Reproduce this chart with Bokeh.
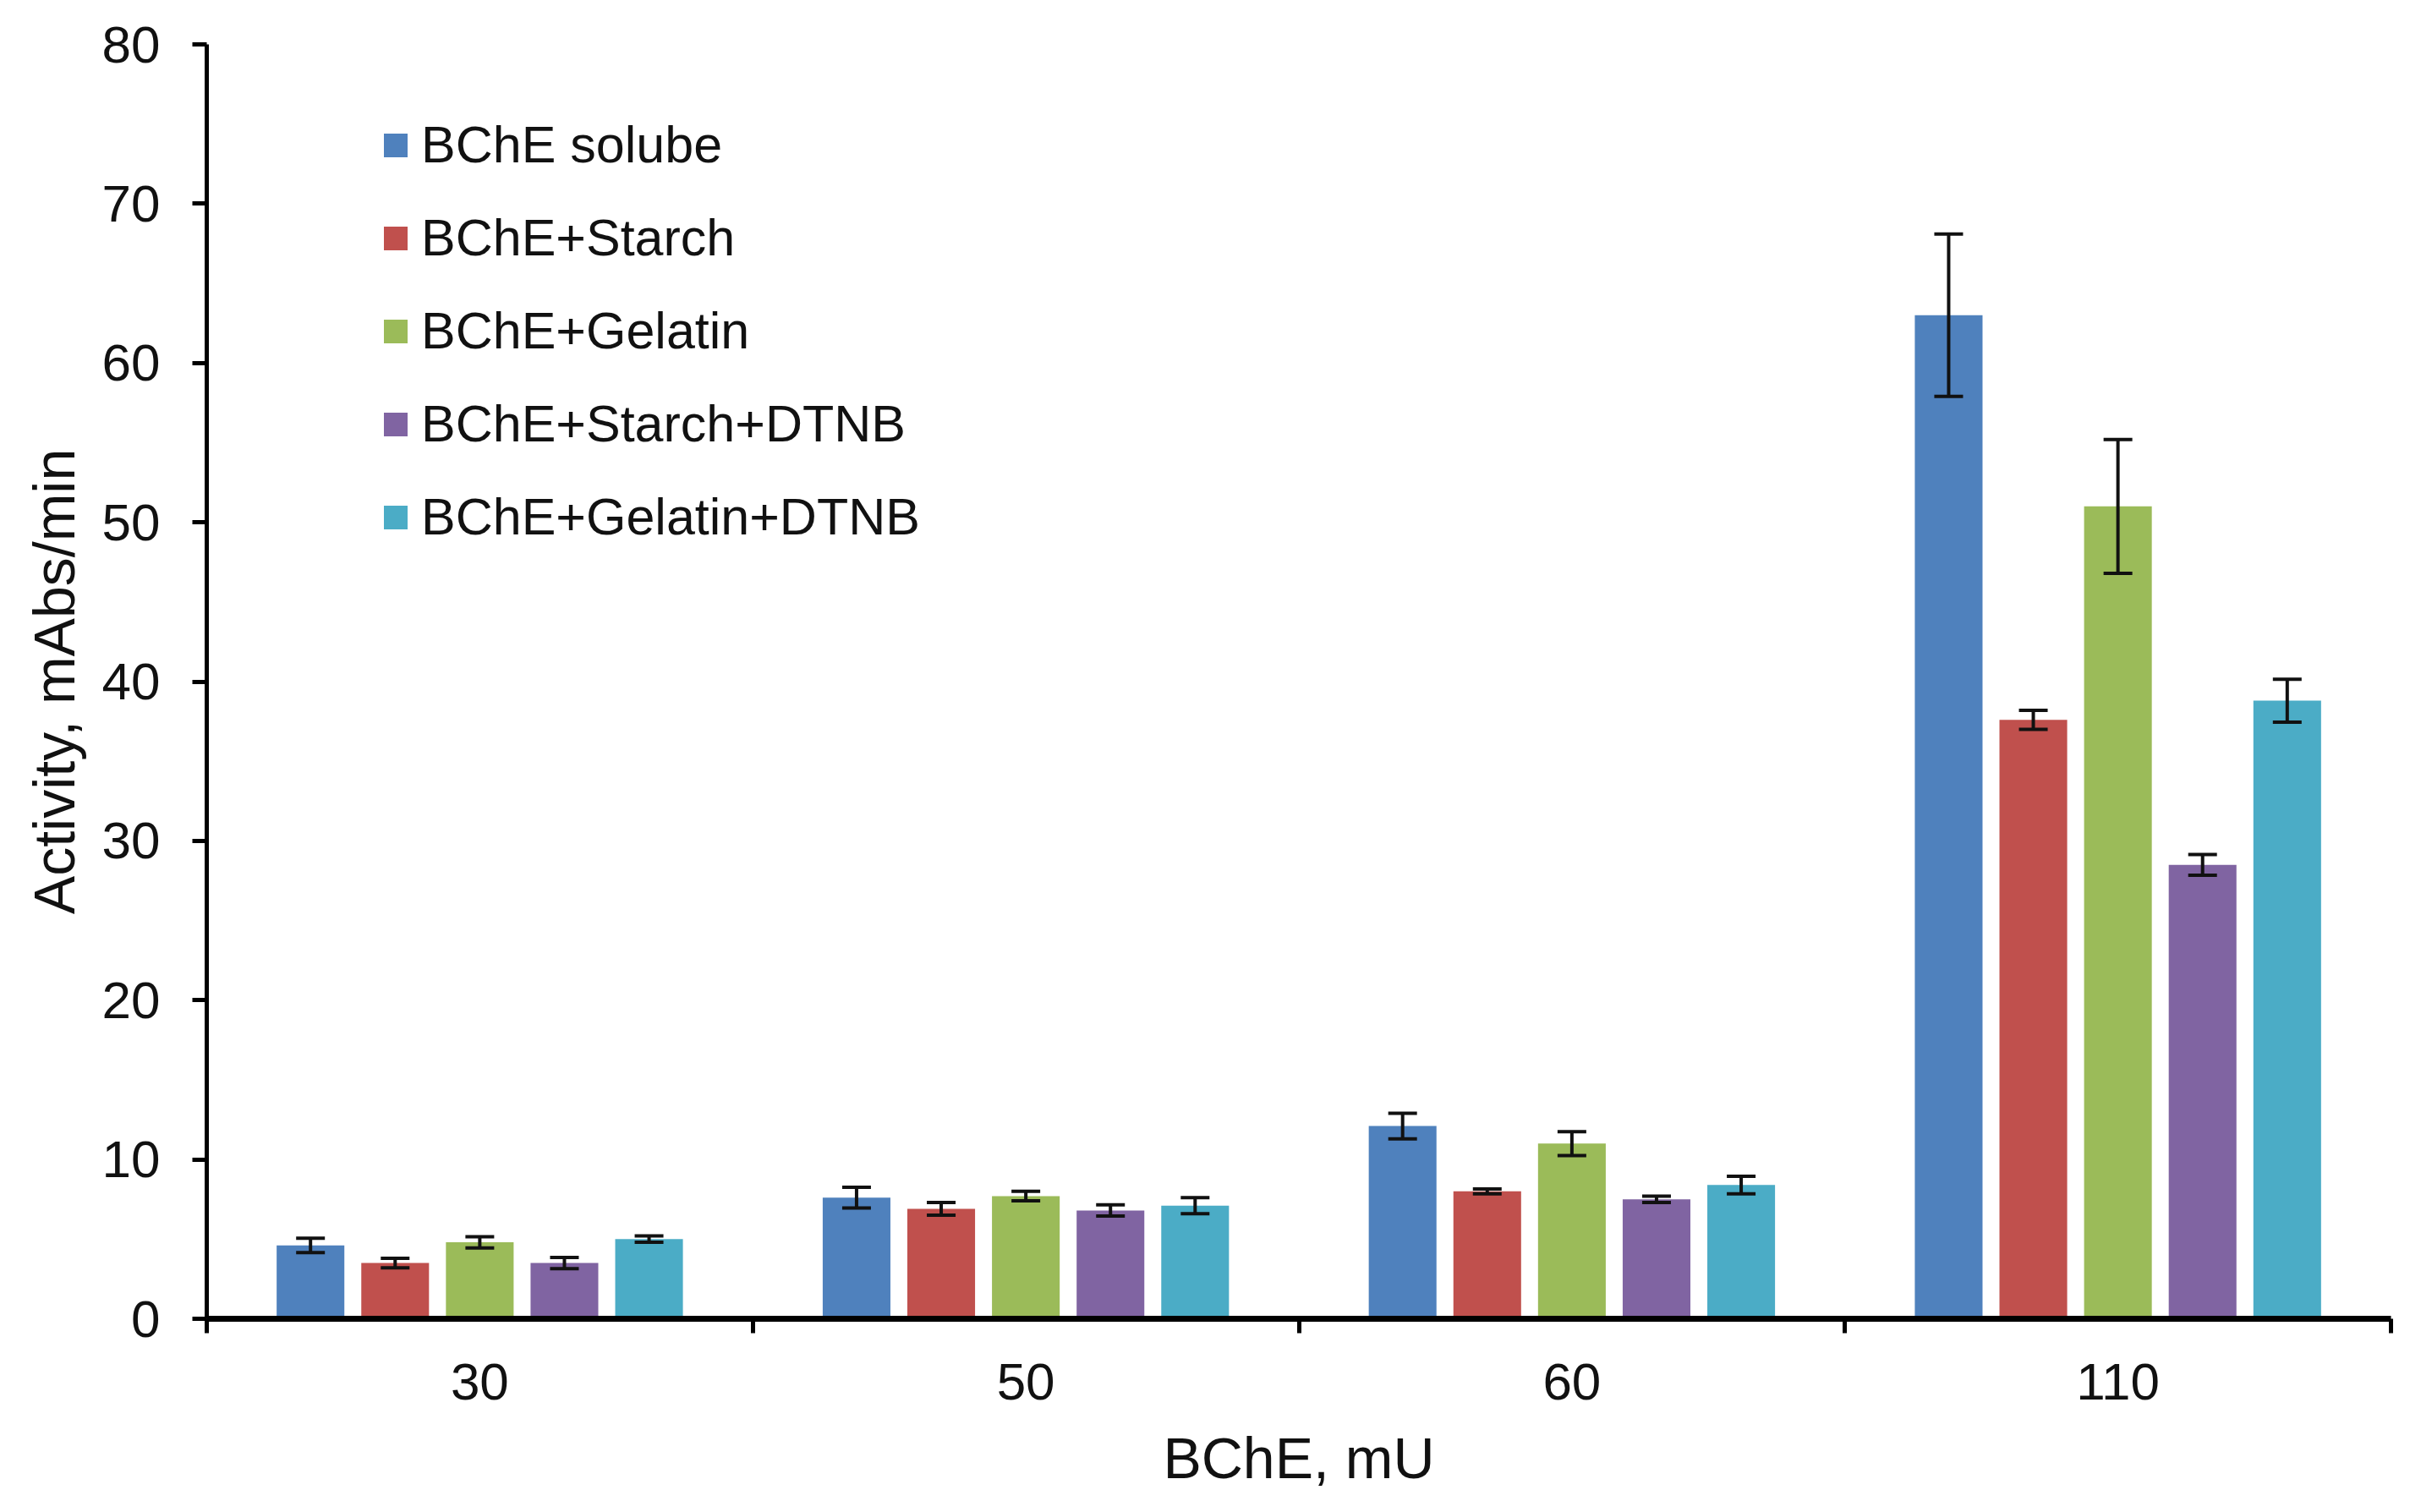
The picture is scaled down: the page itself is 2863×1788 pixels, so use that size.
import numpy as np
from bokeh.plotting import figure
from bokeh.models import ColumnDataSource, Range1d, FixedTicker, Whisker, TeeHead
from bokeh.embed import file_html
from bokeh.resources import INLINE

categories = ["30", "50", "60", "110"]
series_names = ["BChE solube", "BChE+Starch", "BChE+Gelatin", "BChE+Starch+DTNB", "BChE+Gelatin+DTNB"]
colors = ["#4F81BD", "#C0504D", "#9BBB59", "#8064A2", "#4BACC6"]

soluble = [4.6, 7.6, 12.1, 63.0]
starch = [3.5, 6.9, 8.0, 37.6]
gelatin = [4.8, 7.7, 11.0, 51.0]
starch_dtnb = [3.5, 6.8, 7.5, 28.5]
gelatin_dtnb = [5.0, 7.1, 8.4, 38.8]

soluble_err = [0.45, 0.65, 0.8, 5.1]
starch_err = [0.3, 0.4, 0.15, 0.6]
gelatin_err = [0.35, 0.3, 0.75, 4.2]
starch_dtnb_err = [0.35, 0.35, 0.2, 0.65]
gelatin_dtnb_err = [0.2, 0.5, 0.55, 1.35]

values = [soluble, starch, gelatin, starch_dtnb, gelatin_dtnb]
errors = [soluble_err, starch_err, gelatin_err, starch_dtnb_err, gelatin_dtnb_err]

FONT = "Liberation Sans"

p = figure(width=2847, height=1772, output_backend="svg", toolbar_location=None,
           x_range=Range1d(0, len(categories)), y_range=Range1d(0, 80),
           min_border_left=244, min_border_top=52, min_border_right=20, min_border_bottom=213)
p.outline_line_color = None
p.xgrid.grid_line_color = None
p.ygrid.grid_line_color = None
p.background_fill_color = "white"

slot = 0.155
bw = 0.124
idx = np.arange(len(categories))
for j, (name, col, vals, errs) in enumerate(zip(series_names, colors, values, errors)):
    x = idx + 0.5 + (j - 2) * slot
    v = np.array(vals)
    e = np.array(errs)
    src = ColumnDataSource(dict(x=x, top=v, upper=v + e, lower=v - e))
    p.vbar(x="x", top="top", width=bw, bottom=0, source=src, fill_color=col,
           line_color=None, legend_label=name)
    w = Whisker(base="x", upper="upper", lower="lower", source=src,
                line_color="#111111", line_width=4, level="overlay",
                upper_head=TeeHead(size=34, line_width=4, line_color="#111111"),
                lower_head=TeeHead(size=34, line_width=4, line_color="#111111"))
    p.add_layout(w)

# axes
xa = p.xaxis[0]
xa.ticker = FixedTicker(ticks=list(idx + 0.5), minor_ticks=list(range(len(categories) + 1)))
xa.major_label_overrides = {float(i + 0.5): c for i, c in enumerate(categories)}
xa.major_tick_out = 0
xa.major_tick_in = 0
xa.minor_tick_out = 17
xa.minor_tick_in = 0
xa.minor_tick_line_width = 5
xa.minor_tick_line_color = "black"
xa.axis_line_width = 7
xa.axis_line_color = "black"
xa.major_label_text_font = FONT
xa.major_label_text_font_size = "62px"
xa.major_label_text_color = "#111111"
xa.major_label_standoff = 36
xa.axis_label = "BChE, mU"
xa.axis_label_text_font = FONT
xa.axis_label_text_font_size = "68px"
xa.axis_label_text_font_style = "normal"
xa.axis_label_text_color = "#111111"
xa.axis_label_standoff = 28

ya = p.yaxis[0]
ya.ticker = FixedTicker(ticks=list(range(0, 81, 10)), minor_ticks=[])
ya.major_tick_out = 17
ya.major_tick_in = 0
ya.major_tick_line_width = 5
ya.major_tick_line_color = "black"
ya.axis_line_width = 5
ya.axis_line_color = "black"
ya.major_label_text_font = FONT
ya.major_label_text_font_size = "62px"
ya.major_label_text_color = "#111111"
ya.major_label_standoff = 38
ya.axis_label = "Activity, mAbs/min"
ya.axis_label_text_font = FONT
ya.axis_label_text_font_size = "68px"
ya.axis_label_text_font_style = "normal"
ya.axis_label_text_color = "#111111"
ya.axis_label_standoff = 16

lg = p.legend[0]
lg.location = (206, 913)
lg.orientation = "vertical"
lg.border_line_color = None
lg.background_fill_alpha = 0
lg.padding = 0
lg.margin = 0
lg.spacing = 40
lg.glyph_width = 35
lg.glyph_height = 35
lg.label_standoff = 13
lg.label_text_font = FONT
lg.label_text_font_size = "61px"
lg.label_text_color = "#111111"
lg.label_height = 60

open("out.html", "w").write(file_html(p, INLINE))
